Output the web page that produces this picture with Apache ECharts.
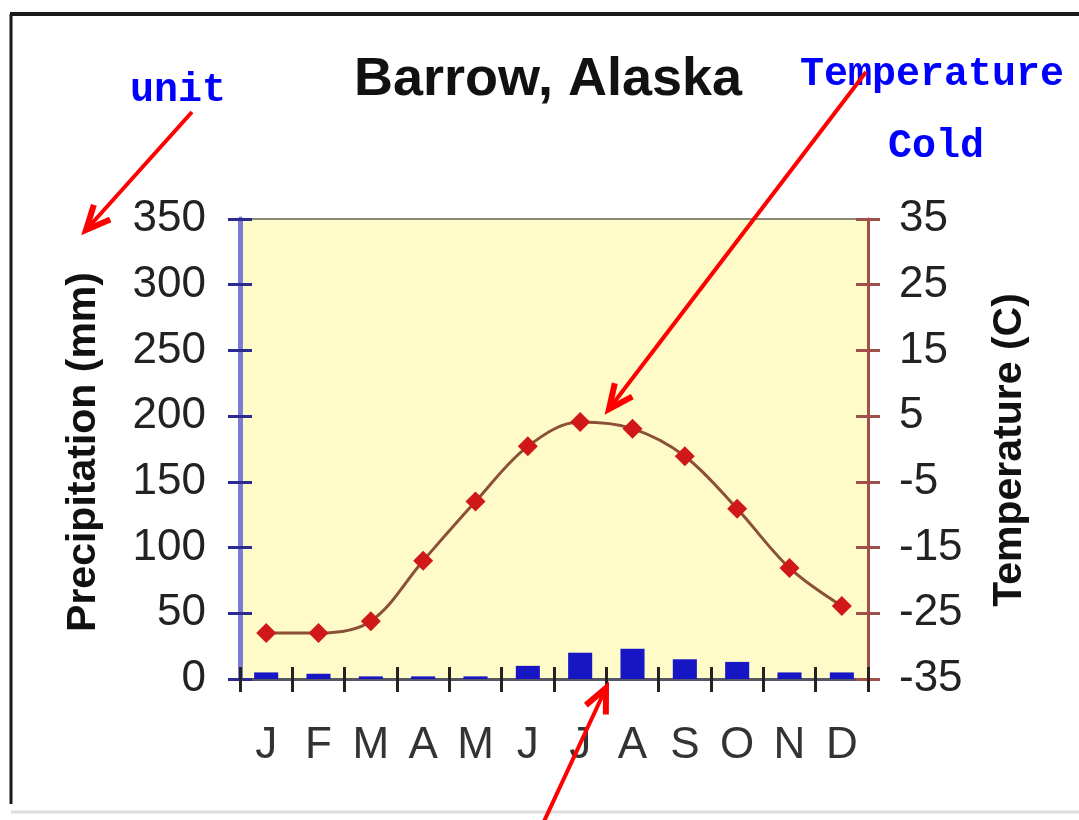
<!DOCTYPE html>
<html><head><meta charset="utf-8">
<script src="https://cdn.jsdelivr.net/npm/echarts@6.0.0/dist/echarts.min.js"></script>
<style>html,body{margin:0;padding:0;background:#fff}#c{width:1079px;height:820px}</style>
</head><body><div id="c"></div>
<script>
const months = ['J','F','M','A','M','J','J','A','S','O','N','D'];
const precipitation = [5, 4, 2, 2, 2, 10, 20, 23, 15, 13, 5, 5];
const temperature = [-28, -28, -26.2, -17, -8, 0.4, 4.1, 3.1, -1.1, -9.1, -18.1, -23.9];
const precipAxis = { min: 0, max: 350, interval: 50 };
const tempAxis = { min: -35, max: 35, interval: 10 };

const chart = echarts.init(document.getElementById('c'));
const sans = "'Liberation Sans', Arial, sans-serif";
const mono = "'Liberation Mono', 'DejaVu Sans Mono', monospace";

function arrow(x1, y1, x2, y2) {
  const dx = x2 - x1, dy = y2 - y1, L = Math.hypot(dx, dy);
  const ux = dx / L, uy = dy / L, hl = 24, hw = 11;
  const bx = x2 - ux * hl, by = y2 - uy * hl;
  return [
    { type: 'line', z: 100, shape: { x1: x1, y1: y1, x2: x2, y2: y2 }, style: { stroke: '#ff0000', lineWidth: 4 } },
    { type: 'polyline', z: 100, shape: { points: [[bx - uy * hw, by + ux * hw], [x2, y2], [bx + uy * hw, by - ux * hw]] },
      style: { stroke: '#ff0000', lineWidth: 6, fill: null } }
  ];
}

chart.setOption({
  backgroundColor: '#ffffff',
  animation: false,
  grid: { left: 240, right: 211, top: 219, bottom: 141, show: true, backgroundColor: '#fffbc8', borderColor: '#8a8a7a', borderWidth: 2 },
  xAxis: [
    { type: 'category', data: months, position: 'bottom',
      axisLine: { onZero: false, lineStyle: { color: '#555566', width: 3 } },
      axisTick: { show: false },
      axisLabel: { fontSize: 44, color: '#333', margin: 45, fontFamily: sans } },
    { type: 'category', data: months, position: 'bottom', offset: -12,
      axisLine: { show: false, onZero: false },
      axisTick: { show: true, length: 25, lineStyle: { color: '#222', width: 3 } },
      axisLabel: { show: false } }
  ],
  yAxis: [
    { type: 'value', position: 'left', min: precipAxis.min, max: precipAxis.max, interval: precipAxis.interval,
      axisLine: { show: true, lineStyle: { color: '#7b7bd8', width: 5 } },
      axisTick: { show: false },
      axisLabel: { fontSize: 44, color: '#222', margin: 34, fontFamily: sans },
      splitLine: { show: false } },
    { type: 'value', position: 'right', min: tempAxis.min, max: tempAxis.max, interval: tempAxis.interval,
      axisLine: { show: true, lineStyle: { color: '#a0504a', width: 3 } },
      axisTick: { show: false },
      axisLabel: { fontSize: 44, color: '#222', margin: 31, fontFamily: sans },
      splitLine: { show: false } },
    { type: 'value', position: 'left', offset: -12, min: precipAxis.min, max: precipAxis.max, interval: precipAxis.interval,
      axisLine: { show: false },
      axisTick: { show: true, length: 24, lineStyle: { color: '#2a2a90', width: 3 } },
      axisLabel: { show: false }, splitLine: { show: false } },
    { type: 'value', position: 'right', offset: -12, min: tempAxis.min, max: tempAxis.max, interval: tempAxis.interval,
      axisLine: { show: false },
      axisTick: { show: true, length: 24, lineStyle: { color: '#a0504a', width: 3 } },
      axisLabel: { show: false }, splitLine: { show: false } }
  ],
  series: [
    { type: 'bar', xAxisIndex: 0, yAxisIndex: 0, data: precipitation, barWidth: '46%',
      itemStyle: { color: '#1616c4' }, z: 3 },
    { type: 'line', xAxisIndex: 0, yAxisIndex: 1, data: temperature, smooth: 0.35,
      symbol: 'diamond', symbolSize: 20,
      lineStyle: { color: '#8a5038', width: 3 },
      itemStyle: { color: '#d01818' }, z: 5 }
  ],
  graphic: [
    { type: 'line', z: 90, shape: { x1: 10, y1: 14, x2: 1079, y2: 14 }, style: { stroke: '#1a1a1a', lineWidth: 4 } },
    { type: 'line', z: 90, shape: { x1: 11, y1: 14, x2: 11, y2: 804 }, style: { stroke: '#1a1a1a', lineWidth: 3 } },
    { type: 'line', z: 90, shape: { x1: 11, y1: 812, x2: 1079, y2: 812 }, style: { stroke: '#dddddd', lineWidth: 3 } },
    { type: 'text', z: 100, x: 548, y: 80, style: { text: 'Barrow, Alaska', font: "bold 54px 'Liberation Sans', Arial, sans-serif", fill: '#111', textAlign: 'center', textVerticalAlign: 'middle' } },
    { type: 'text', z: 100, x: 84, y: 452, rotation: Math.PI / 2, style: { text: 'Precipitation (mm)', font: "bold 41px 'Liberation Sans', Arial, sans-serif", fill: '#111', textAlign: 'center', textVerticalAlign: 'middle' } },
    { type: 'text', z: 100, x: 1010, y: 450, rotation: Math.PI / 2, style: { text: 'Temperature (C)', font: "bold 41px 'Liberation Sans', Arial, sans-serif", fill: '#111', textAlign: 'center', textVerticalAlign: 'middle' } },
    { type: 'text', z: 100, x: 130, y: 91, style: { text: 'unit', font: "bold 40px " + mono, fill: '#0000ff', textAlign: 'left', textVerticalAlign: 'middle' } },
    { type: 'text', z: 100, x: 800, y: 75, style: { text: 'Temperature', font: "bold 40px " + mono, fill: '#0000ff', textAlign: 'left', textVerticalAlign: 'middle' } },
    { type: 'text', z: 100, x: 888, y: 147, style: { text: 'Cold', font: "bold 40px " + mono, fill: '#0000ff', textAlign: 'left', textVerticalAlign: 'middle' } }
  ].concat(arrow(192, 112, 86, 230), arrow(866, 72, 609, 409), arrow(540, 830, 606, 688))
});
</script></body></html>
